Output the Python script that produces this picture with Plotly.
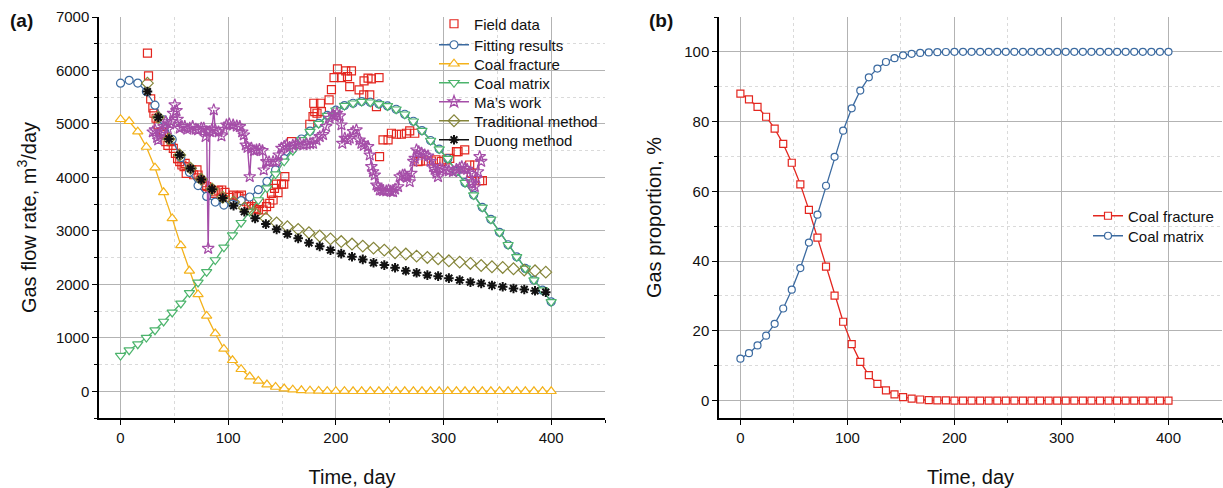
import plotly.graph_objects as go

# ---------------- Panel (a) data ----------------
model_days = [0, 8, 16, 24, 32, 40, 48, 56, 64, 72, 80, 88, 96, 104, 112, 120, 128, 136, 144, 152,
              160, 168, 176, 184, 192, 200, 208, 216, 224, 232, 240, 248, 256, 264, 272, 280, 288,
              296, 304, 312, 320, 328, 336, 344, 352, 360, 368, 376, 384, 392, 400]

fitting = [5762, 5815, 5765, 5605, 5350, 5075, 4710, 4370, 4094, 3847, 3644, 3539, 3483, 3501,
           3564, 3633, 3770, 3925, 4140, 4350, 4530, 4718, 4866, 5011, 5159, 5258, 5344, 5387,
           5418, 5406, 5375, 5337, 5275, 5181, 5050, 4875, 4690, 4530, 4350, 4107, 3901, 3670,
           3440, 3215, 2972, 2740, 2515, 2297, 2079, 1891, 1672]

coal_fracture = [5088, 5050, 4856, 4569, 4182, 3721, 3234, 2728, 2253, 1811, 1410, 1080, 792, 580,
                 412, 275, 193, 125, 80, 50, 30, 18, 10, 6, 3, 2, 1, 0, 0, 0, 0, 0, 0, 0, 0, 0,
                 0, 0, 0, 0, 0, 0, 0, 0, 0, 0, 0, 0, 0, 0, 0]

coal_matrix = [668, 768, 880, 1005, 1142, 1305, 1474, 1642, 1841, 2036, 2234, 2455, 2691, 2921,
               3152, 3358, 3577, 3800, 4060, 4300, 4500, 4700, 4856, 5005, 5156, 5256, 5343, 5387,
               5418, 5406, 5375, 5337, 5275, 5181, 5050, 4875, 4690, 4530, 4350, 4107, 3901, 3670,
               3440, 3215, 2972, 2740, 2515, 2297, 2079, 1891, 1672]

field_days = [25, 26, 28, 30, 31, 33, 35, 38, 40, 42, 44, 47, 49, 51, 53, 55, 57, 59, 60, 61, 66,
              68, 71, 72, 74, 76, 78, 80, 83, 86, 88, 91, 94, 97, 101, 104.5, 107.7, 110, 112.3,
              115, 117, 119, 121.6, 124, 126.3, 128, 129.3, 132.4, 135.6, 138.6, 140.2, 141.7, 143,
              144.8, 146.3, 149.5, 151.6, 152.6, 158.8, 175.8, 178.8, 179.5, 180.4, 182.5, 185.7,
              186.6, 193.7, 195.9, 198.3, 201.5, 205.2, 209.2, 210.8, 212.9, 214.5, 221.6, 225.9,
              226.2, 229.9, 231.5, 233, 237.7, 240.1, 240.6, 243.8, 248.5, 251.6, 256.3, 260.9,
              265.5, 268.6, 273.3, 276.4, 278.5, 283.4, 288.7, 293, 298, 302.6, 305.8, 312, 313.5,
              319.7, 324.3, 325.9, 329, 333.6, 336.1]
field_rate = [6324, 5899, 5468, 5300, 5200, 5106, 4981, 4850, 4800, 4669, 4600, 4669, 4544, 4450,
              4350, 4295, 4232, 4200, 4264, 4077, 4139, 4050, 4139, 4045, 3951, 3900, 3850, 3826,
              3780, 3700, 3732, 3760, 3764, 3720, 3627, 3670, 3652, 3639, 3670, 3600, 3545, 3500,
              3452, 3421, 3390, 3400, 3515, 3390, 3452, 3515, 3702, 3577, 3796, 3876, 3714, 3876,
              3876, 4013, 4669, 4994, 5137, 5387, 5230, 5200, 5387, 5230, 5449, 5642, 5867, 6030,
              5867, 5993, 5886, 5699, 5993, 5637, 5543, 5805, 5855, 5543, 5843, 5324, 5867, 4388,
              4700, 4700, 4826, 4807, 4807, 4826, 4869, 4826, 4295, 4307, 4307, 4307, 4330, 4300,
              4326, 4356, 4481, 4481, 4513, 4232, 4077, 4232, 3938, 3938]

ma_days = [30, 32, 34, 35, 37, 38, 40, 42, 44, 46, 47.3, 48.8, 50.4, 52, 53, 55, 57, 59.7, 62, 64.3,
           67, 70, 72, 75, 77.3, 79, 80, 81.4, 83, 85, 86.6, 88, 91, 93.7, 96, 98.4, 101, 104.6,
           108, 110.8, 113, 114.5, 116.3, 118, 120, 121.6, 124, 126.3, 129, 131.8, 133, 135.5,
           138, 141.7, 144.8, 147, 149.5, 152, 154.1, 157, 160, 163, 166.5, 170, 173, 176, 178.8,
           182, 185, 188.1, 191, 194.3, 197.4, 199, 201, 203.6, 205.2, 206, 208.3, 211, 212.9,
           216, 219.1, 222, 223.7, 226, 229.9, 231.5, 233, 234.5, 236.1, 237.7, 239.2, 240.8,
           242.3, 244, 246.9, 249, 251, 253.1, 255, 257.8, 259.3, 262, 264, 266, 268.6, 270.1,
           272, 273.3, 274.9, 277, 279.5, 282.5, 285.6, 288, 290.3, 291.8, 293.4, 294.9, 296.5,
           299, 302.6, 305, 308.8, 312, 315, 317, 319.7, 322, 324.3, 325.9, 327, 329, 330.5, 332,
           333.6, 335]
ma_rate = [4850, 4888, 4750, 4700, 4800, 4856, 4950, 5043, 4900, 5000, 5043, 5200, 5356, 5250,
           5088, 4919, 4950, 4950, 4900, 4919, 4950, 4900, 4888, 4919, 4919, 4762, 4850, 2672,
           4856, 4900, 5262, 4888, 4850, 4775, 4900, 4981, 5000, 4981, 4960, 4950, 4850, 4794,
           4606, 4560, 4013, 4544, 4500, 4513, 4520, 4500, 4139, 4295, 4290, 4295, 4300, 4420,
           4544, 4580, 4606, 4560, 4600, 4620, 4638, 4606, 4620, 4630, 4638, 4700, 4762, 4800,
           4950, 5106, 5170, 5137, 5200, 5150, 4981, 4638, 4732, 4700, 4732, 4856, 4888, 4700,
           4638, 4600, 4576, 4419, 4201, 4107, 4045, 3858, 3826, 3764, 3764, 3750, 3745, 3760,
           3740, 3732, 3780, 3826, 4013, 4040, 4045, 4000, 3919, 4077, 4300, 4356, 4513, 4480,
           4450, 4419, 4400, 4300, 4201, 4150, 4077, 4013, 4170, 4150, 4139, 4120, 4107, 4150,
           4170, 4200, 4170, 4150, 4077, 3919, 3880, 3826, 3982, 4107, 4388, 4300]

dca_days = [25, 35, 45, 55, 65, 75, 85, 95, 105, 115, 125, 135, 145, 155, 165, 175, 185, 195, 205,
            215, 225, 235, 245, 255, 265, 275, 285, 295, 305, 315, 325, 335, 345, 355, 365, 375,
            385, 395]
traditional = [5762, 5125, 4719, 4419, 4170, 3964, 3783, 3630, 3540, 3430, 3328, 3234, 3150, 3077,
               3028, 2964, 2903, 2850, 2800, 2753, 2715, 2678, 2640, 2590, 2566, 2528, 2503, 2478,
               2440, 2416, 2391, 2353, 2328, 2316, 2291, 2266, 2253, 2228]
duong = [5605, 5125, 4719, 4419, 4165, 3960, 3780, 3614, 3470, 3358, 3234, 3127, 3028, 2940, 2860,
         2777, 2710, 2640, 2575, 2516, 2466, 2403, 2360, 2310, 2253, 2216, 2172, 2153, 2116, 2079,
         2041, 2016, 1979, 1954, 1923, 1904, 1879, 1854]

# ---------------- Panel (b) data ----------------
fracture_pct = [88.0, 86.4, 84.2, 81.4, 78.0, 73.6, 68.2, 62.0, 54.7, 46.7, 38.4, 30.1, 22.6, 16.2,
                11.1, 7.3, 4.8, 2.9, 1.8, 1.0, 0.55, 0.3, 0.15, 0.08, 0.04, 0, 0, 0, 0, 0, 0, 0,
                0, 0, 0, 0, 0, 0, 0, 0, 0, 0, 0, 0, 0, 0, 0, 0, 0, 0, 0]
matrix_pct = [12.0, 13.6, 15.8, 18.6, 22.0, 26.4, 31.8, 38.0, 45.3, 53.3, 61.6, 69.9, 77.4, 83.8,
              88.9, 92.7, 95.2, 97.1, 98.2, 99.0, 99.45, 99.7, 99.85, 99.92, 99.96, 100, 100, 100,
              100, 100, 100, 100, 100, 100, 100, 100, 100, 100, 100, 100, 100, 100, 100, 100, 100,
              100, 100, 100, 100, 100, 100]

x_ticks = [0, 100, 200, 300, 400]

FONT = "Liberation Sans, Arial, sans-serif"
RED = "#e3261f"
BLUE = "#3b6aa0"
GOLD = "#f4b21b"
GREEN = "#4cb46c"
PURPLE = "#a54ea8"
OLIVE = "#85853a"

W, H = 1223, 488
fig = go.Figure()
legend_layout = {}
legend_count = [0]


def new_legend(text_x, center_y):
    legend_count[0] += 1
    key = "legend" if legend_count[0] == 1 else f"legend{legend_count[0]}"
    legend_layout[key] = dict(
        x=(text_x - 41) / W, y=1 - center_y / H, xanchor="left", yanchor="middle",
        bgcolor="rgba(0,0,0,0)", font=dict(family=FONT, size=15, color="#111"),
        itemwidth=30)
    return key


def add(x, y, name, color, symbol, xa, ya, legend, mode="lines+markers", size=8, lw=1.3,
        fill="white", mlw=1.2, showlegend=True):
    fig.add_trace(go.Scatter(
        x=x, y=y, name=name, mode=mode, xaxis=xa, yaxis=ya, legend=legend,
        showlegend=showlegend,
        line=dict(color=color, width=lw),
        marker=dict(symbol=symbol, size=size, color=fill, line=dict(color=color, width=mlw)),
    ))


LX_A = 475
ys_a = [24, 45, 64, 83, 102, 121, 140]
add(field_days, field_rate, "Field data", RED, "square-open", "x", "y", new_legend(LX_A, ys_a[0]),
    mode="markers", size=8, fill=RED)
add(model_days, fitting, "Fitting results", BLUE, "circle", "x", "y", new_legend(LX_A, ys_a[1]),
    size=8)
add(model_days, coal_fracture, "Coal fracture", GOLD, "triangle-up", "x", "y",
    new_legend(LX_A, ys_a[2]), size=9)
add(model_days, coal_matrix, "Coal matrix", GREEN, "triangle-down", "x", "y",
    new_legend(LX_A, ys_a[3]), size=9)
add(ma_days, ma_rate, "Ma’s work", PURPLE, "star-open", "x", "y", new_legend(LX_A, ys_a[4]),
    size=9, lw=1.4, fill=PURPLE)
lg_trad = new_legend(LX_A, ys_a[5])
lg_duong = new_legend(LX_A, ys_a[6])
add(dca_days, traditional, "Traditional method", OLIVE, "diamond-open", "x", "y", lg_trad,
    mode="markers", size=9, fill=OLIVE, showlegend=False)
add(dca_days, duong, "Duong method", "#111111", "asterisk-open", "x", "y", lg_duong,
    mode="markers", size=8, fill="#111111", mlw=2, showlegend=False)
# legend entries (line + marker) for the two decline-curve methods
add([None], [None], "Traditional method", OLIVE, "diamond-open", "x", "y", lg_trad,
    size=9, fill=OLIVE)
add([None], [None], "Duong method", "#111111", "asterisk-open", "x", "y", lg_duong,
    size=8, fill="#111111", mlw=2)

LX_B = 1129
add(model_days, fracture_pct, "Coal fracture", RED, "square", "x2", "y2", new_legend(LX_B, 216),
    size=7)
add(model_days, matrix_pct, "Coal matrix", BLUE, "circle", "x2", "y2", new_legend(LX_B, 236),
    size=7)

axis_common = dict(
    showline=True, linecolor="black", linewidth=1.5, ticks="outside", ticklen=5,
    tickcolor="black", tickwidth=1.2, showgrid=True, gridcolor="#b3b3b3", gridwidth=1,
    zeroline=False, tickfont=dict(family=FONT, size=15, color="#111"),
    mirror=False, automargin=False,
)

minor_common = dict(showgrid=True, gridcolor="#dadada", gridwidth=1, griddash="dot",
                    ticks="outside", ticklen=3, tickcolor="black")

ydom = [70 / H, 1 - 17 / H]

fig.update_layout(
    width=W, height=H, margin=dict(l=0, r=0, t=0, b=0, autoexpand=False),
    plot_bgcolor="white", paper_bgcolor="white",
    font=dict(family=FONT, size=15, color="#111"),
    xaxis=dict(domain=[99 / W, 605 / W], range=[-20, 450], tickvals=x_ticks,
               minor=dict(dtick=50, tick0=0, **minor_common),
               title=dict(text="Time, day", font=dict(family=FONT, size=20), standoff=26),
               anchor="y", **axis_common),
    yaxis=dict(domain=ydom, range=[-500, 7000], dtick=1000, tick0=0,
               minor=dict(dtick=500, tick0=0, **minor_common),
               title=dict(text="Gas flow rate, m<sup>3</sup>/day", font=dict(family=FONT, size=20),
                          standoff=14),
               anchor="x", **axis_common),
    xaxis2=dict(domain=[719 / W, 1222 / W], range=[-20, 450], tickvals=x_ticks,
                minor=dict(dtick=50, tick0=0, **minor_common),
                title=dict(text="Time, day", font=dict(family=FONT, size=20), standoff=26),
                anchor="y2", **axis_common),
    yaxis2=dict(domain=ydom, range=[-5, 110], dtick=20, tick0=0,
                minor=dict(dtick=10, tick0=0, **minor_common),
                title=dict(text="Gas proportion, %", font=dict(family=FONT, size=20), standoff=17),
                anchor="x2", **axis_common),
    annotations=[
        dict(text="<b>(a)</b>", x=8 / W, y=1 - 20 / H, xref="paper", yref="paper",
             xanchor="left", yanchor="middle", showarrow=False,
             font=dict(family=FONT, size=19, color="#111")),
        dict(text="<b>(b)</b>", x=647 / W, y=1 - 20 / H, xref="paper", yref="paper",
             xanchor="left", yanchor="middle", showarrow=False,
             font=dict(family=FONT, size=19, color="#111")),
    ],
    **legend_layout,
)

fig.write_html("out.html", config={"displayModeBar": False},
               post_script="document.body.style.margin='0px';document.body.style.overflow='hidden';")
